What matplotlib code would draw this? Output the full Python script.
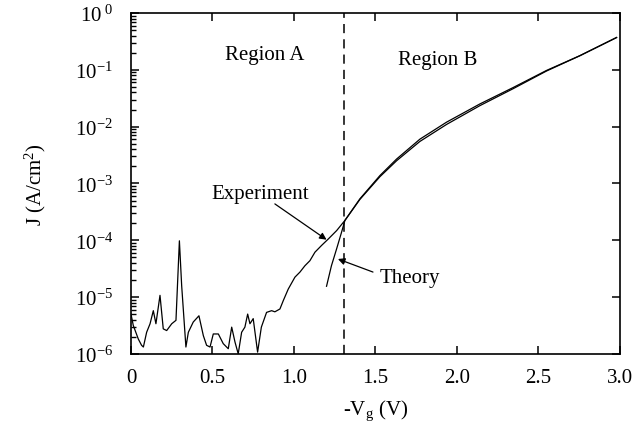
import numpy as np
import matplotlib
matplotlib.use("Agg")
import matplotlib.pyplot as plt
from matplotlib.ticker import FixedLocator, NullFormatter

plt.rcParams['font.family'] = ['Liberation Serif', 'DejaVu Serif']
plt.rcParams['mathtext.fontset'] = 'custom'
plt.rcParams['mathtext.rm'] = 'Liberation Serif'
plt.rcParams['mathtext.it'] = 'Liberation Serif:italic'
plt.rcParams['axes.unicode_minus'] = False

# Experiment: -Vg (V) vs log10 J
exp_v = [0.0, 0.014, 0.045, 0.065, 0.076, 0.096, 0.117, 0.137, 0.153, 0.178,
         0.198, 0.219, 0.25, 0.276, 0.297, 0.311, 0.337, 0.352, 0.382, 0.417,
         0.444, 0.464, 0.485, 0.505, 0.536, 0.566, 0.597, 0.618, 0.638, 0.658,
         0.679, 0.699, 0.716, 0.73, 0.75, 0.777, 0.80, 0.832, 0.863, 0.883,
         0.914, 0.935, 0.965, 1.006, 1.037, 1.067, 1.098, 1.129, 1.17, 1.21,
         1.262, 1.313, 1.405, 1.528, 1.63, 1.773, 1.937, 2.141, 2.346, 2.55,
         2.755, 2.98]
exp_logj = [-5.3, -5.50, -5.74, -5.85, -5.88, -5.62, -5.47, -5.24, -5.47, -4.97,
            -5.56, -5.59, -5.47, -5.41, -4.01, -4.80, -5.88, -5.62, -5.44, -5.33,
            -5.68, -5.85, -5.88, -5.65, -5.65, -5.82, -5.91, -5.53, -5.79, -6.0,
            -5.62, -5.53, -5.30, -5.47, -5.38, -5.97, -5.53, -5.27, -5.24, -5.26,
            -5.21, -5.06, -4.86, -4.65, -4.56, -4.45, -4.36, -4.21, -4.09, -3.98,
            -3.83, -3.65, -3.27, -2.86, -2.57, -2.22, -1.92, -1.60, -1.31, -1.01,
            -0.75, -0.43]

# Theory
th_v = [1.20, 1.23, 1.262, 1.29, 1.313, 1.405, 1.528, 1.63, 1.773, 1.937,
        2.141, 2.346, 2.55, 2.755, 2.98]
th_logj = [-4.81, -4.45, -4.15, -3.88, -3.65, -3.28, -2.88, -2.60, -2.26, -1.96,
           -1.63, -1.33, -1.02, -0.75, -0.43]

v_boundary = 1.31

fig = plt.figure(figsize=(6.39, 4.27), dpi=100)
ax = fig.add_axes([0.205, 0.169, 0.765, 0.798])

ax.plot(exp_v, 10.0 ** np.array(exp_logj), color='black', lw=0.9)
ax.plot(th_v, 10.0 ** np.array(th_logj), color='black', lw=0.9)
ax.axvline(v_boundary, color='black', lw=1.1, linestyle=(0, (6, 4)))

ax.set_yscale('log')
ax.set_xlim(0, 3.0)
ax.set_ylim(1e-6, 1)
ax.set_xticks([0, 0.5, 1.0, 1.5, 2.0, 2.5, 3.0])
ax.set_xticklabels(['0', '0.5', '1.0', '1.5', '2.0', '2.5', '3.0'])
ax.set_yticks([1e-6, 1e-5, 1e-4, 1e-3, 1e-2, 1e-1, 1])
ax.set_yticklabels(['$10^{-6}$', '$10^{-5}$', '$10^{-4}$', '$10^{-3}$',
                    '$10^{-2}$', '$10^{-1}$', '$10^{\\ 0}$'])
minor_locs = [m * 10.0 ** e for e in range(-6, 0) for m in range(2, 10)]
ax.yaxis.set_minor_locator(FixedLocator(minor_locs))
ax.yaxis.set_minor_formatter(NullFormatter())
ax.tick_params(which='both', direction='in', top=True, right=True, labelsize=15)
ax.tick_params(which='major', length=6, width=1.1)
ax.tick_params(axis='y', which='minor', length=3.5, width=1.0, left=True, right=False)
ax.tick_params(axis='x', which='major', pad=10)
ax.tick_params(axis='y', which='major', pad=13)
for s in ax.spines.values():
    s.set_linewidth(1.2)

ax.set_xlabel('-V$_{\\mathrm{g}}$ (V)', fontsize=15, labelpad=8)
ax.set_ylabel('J (A/cm$^{2}$)', fontsize=15)
ax.yaxis.set_label_coords(-0.17, 0.5)

ax.text(0.82, 0.19, 'Region A', fontsize=15, ha='center', va='center')
ax.text(1.88, 0.15, 'Region B', fontsize=15, ha='center', va='center')

ax.text(0.79, 10 ** -3.17, 'Experiment', fontsize=15, ha='center', va='center')
ax.annotate('', xy=(1.20, 10 ** -3.99), xytext=(0.883, 10 ** -3.36),
            arrowprops=dict(arrowstyle='-|>', color='black', lw=0.9,
                            shrinkA=0, shrinkB=0, mutation_scale=10))
ax.text(1.71, 10 ** -4.65, 'Theory', fontsize=15, ha='center', va='center')
ax.annotate('', xy=(1.27, 10 ** -4.33), xytext=(1.485, 10 ** -4.56),
            arrowprops=dict(arrowstyle='-|>', color='black', lw=0.9,
                            shrinkA=0, shrinkB=0, mutation_scale=10))

fig.savefig('out.png', dpi=100)
